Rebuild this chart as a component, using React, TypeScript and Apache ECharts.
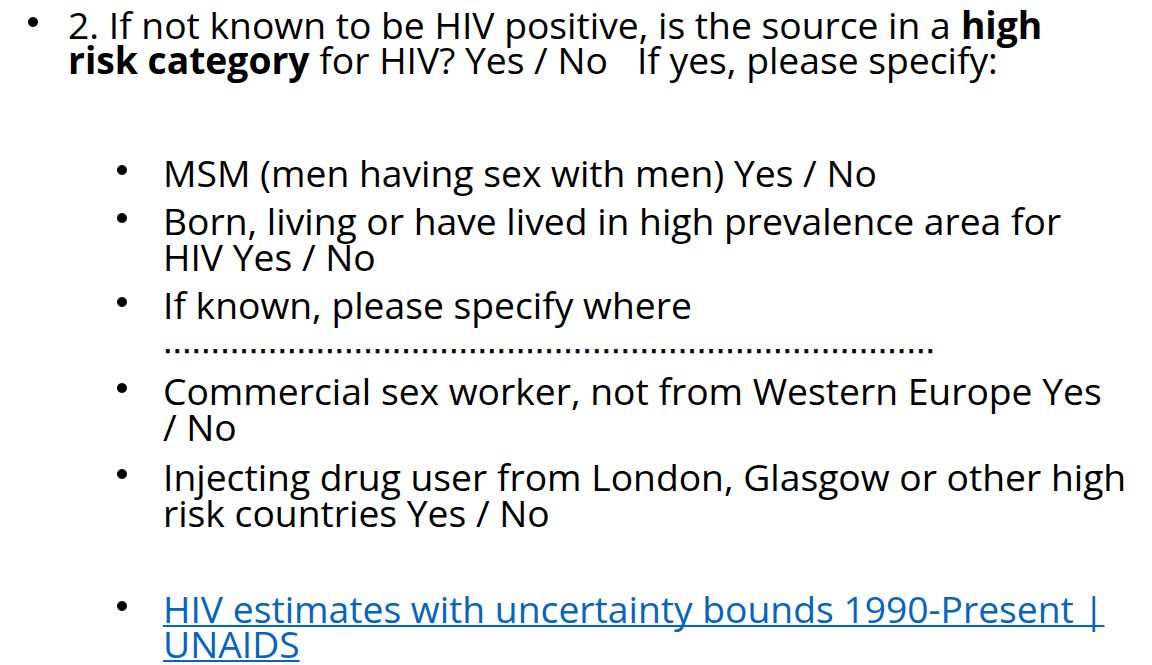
import React, { useEffect, useRef } from "react";
import * as echarts from "echarts";

// ---- Text content ----
const mainLines: string[] = [
  "{n|2. If not known to be HIV positive, is the source in a }{b|high}",
  "{b|risk category}{n| for HIV? Yes / No   If yes, please specify:}",
];
const subItems: string[][] = [
  ["MSM (men having sex with men) Yes / No"],
  ["Born, living or have lived in high prevalence area for", "HIV Yes / No"],
  ["If known, please specify where"],
  ["Commercial sex worker, not from Western Europe Yes", "/ No"],
  ["Injecting drug user from London, Glasgow or other high", "risk countries Yes / No"],
];
const dotsLine: string = "…".repeat(27);
const linkLines: string[] = ["HIV estimates with uncertainty bounds 1990-Present |", "UNAIDS"];

// ---- Layout ----
const W = 1152;
const H = 665;
const FONT = "Open Sans";
const FS = 37;
const LH = 24;
const SX = 1.007;
const mainX = 68;
const mainBulletX = 33;
const subX = 163;
const subBulletX = 122;
const mainY = [25, 60];
const subY = [[173], [221, 257], [305], [391, 427], [477, 513]];
const dotsY = 343;
const linkY = [609, 644];
const LINK = "#0563C1";

function measure(text: string): number {
  const c = document.createElement("canvas");
  const ctx = c.getContext("2d")!;
  ctx.font = `${FS}px "${FONT}"`;
  return ctx.measureText(text).width * SX;
}

export default function App() {
  const ref = useRef<HTMLDivElement>(null);
  useEffect(() => {
    if (!ref.current) return;
    const chart = echarts.init(ref.current, undefined, { renderer: "svg" });
    const elements: any[] = [];
    const textEl = (text: string, x: number, y: number, fill: string, extra: any = {}) => ({
      type: "text",
      x,
      y,
      scaleX: SX,
      style: {
        text,
        fill,
        fontFamily: FONT,
        fontSize: FS,
        lineHeight: LH,
        verticalAlign: "middle",
        align: "left",
        ...extra,
      },
    });
    const bullet = (x: number, y: number) => ({
      type: "circle",
      shape: { cx: x, cy: y, r: 5 },
      style: { fill: "#000" },
    });

    elements.push(bullet(mainBulletX, mainY[0] - 3));
    mainLines.forEach((t, i) => {
      elements.push(
        textEl(t, mainX, mainY[i], "#000", {
          rich: {
            n: { fontFamily: FONT, fontSize: FS, lineHeight: LH, fill: "#000" },
            b: { fontFamily: FONT, fontSize: FS, lineHeight: LH, fontWeight: "bold", fill: "#000" },
          },
        })
      );
    });

    subItems.forEach((lines, i) => {
      elements.push(bullet(subBulletX, subY[i][0] - 3));
      lines.forEach((t, j) => {
        elements.push(textEl(t, subX, subY[i][j], "#000"));
      });
    });

    elements.push({
      type: "text",
      x: subX,
      y: dotsY,
      style: {
        text: dotsLine,
        fill: "#000",
        stroke: "#000",
        lineWidth: 0.7,
        fontFamily: "DejaVu Sans",
        fontSize: 28.6,
        lineHeight: 20,
        verticalAlign: "middle",
      },
    });

    elements.push(bullet(subBulletX, linkY[0] - 3));
    linkLines.forEach((t, j) => {
      elements.push(textEl(t, subX, linkY[j], LINK));
      const w = measure(t);
      elements.push({
        type: "line",
        shape: { x1: subX, y1: linkY[j] + 17, x2: subX + w, y2: linkY[j] + 17 },
        style: { stroke: LINK, lineWidth: 2 },
      });
    });

    chart.setOption({
      animation: false,
      backgroundColor: "#ffffff",
      graphic: { elements },
    });
    return () => chart.dispose();
  }, []);
  return (
    <div
      ref={ref}
      style={{ position: "absolute", left: 0, top: 0, width: W, height: H }}
    />
  );
}
